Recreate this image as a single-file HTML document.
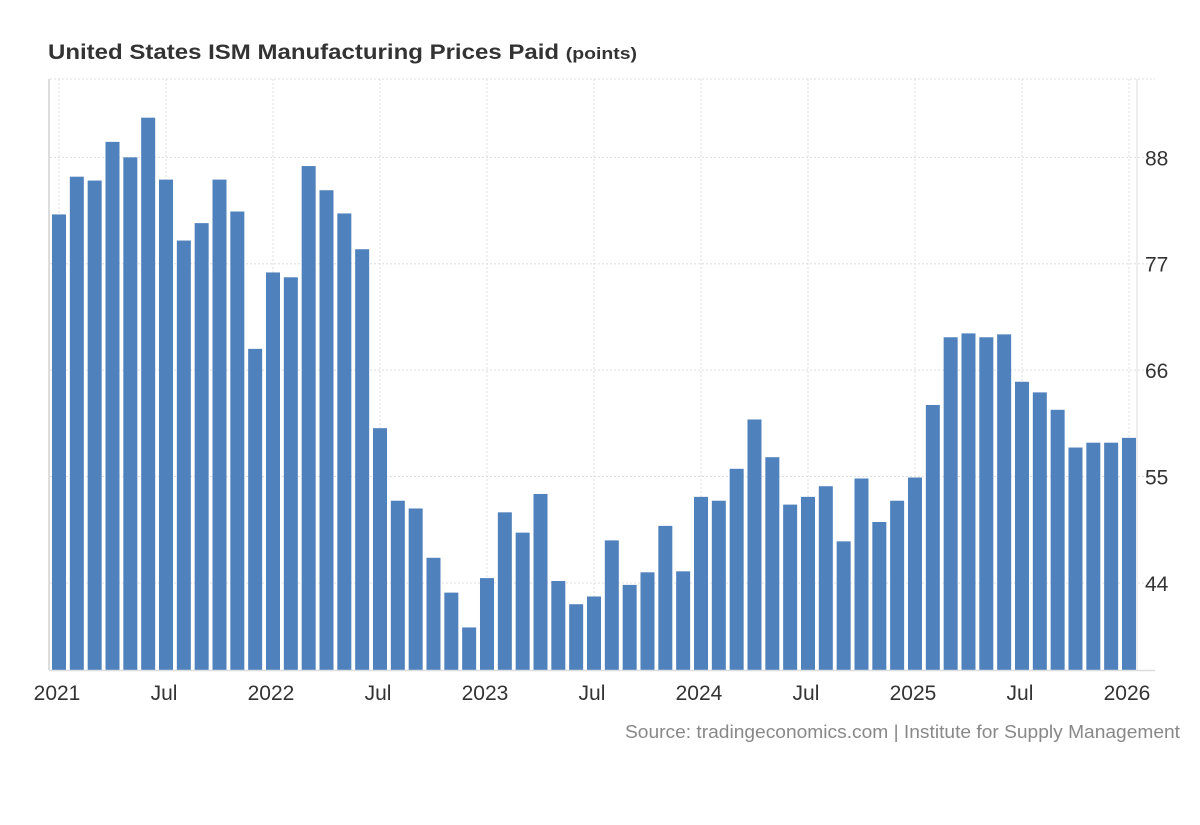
<!DOCTYPE html>
<html><head><meta charset="utf-8"><style>
body{margin:0;background:#fff;width:1200px;height:820px;overflow:hidden;font-family:"Liberation Sans",sans-serif}
</style></head><body>
<svg width="1200" height="820">
<text x="48" y="59" font-size="21" font-weight="bold" fill="#333" textLength="589" lengthAdjust="spacingAndGlyphs">United States ISM Manufacturing Prices Paid <tspan font-size="17">(points)</tspan></text>
<g id="grid"></g><g id="bars"></g><g id="axes"></g>
<text x="1180" y="738" font-size="18" fill="#888" text-anchor="end" textLength="555" lengthAdjust="spacingAndGlyphs">Source: tradingeconomics.com | Institute for Supply Management</text>
</svg>
<script>
const values=[82.1,86,85.6,89.6,88,92.1,85.7,79.4,81.2,85.7,82.4,68.2,
76.1,75.6,87.1,84.6,82.2,78.5,60,52.5,51.7,46.6,43,39.4,
44.5,51.3,49.2,53.2,44.2,41.8,42.6,48.4,43.8,45.1,49.9,45.2,
52.9,52.5,55.8,60.9,57,52.1,52.9,54,48.3,54.8,50.3,52.5,
54.9,62.4,69.4,69.8,69.4,69.7,64.8,63.7,61.9,58,58.5,58.5,59];
const yTicks=[44,55,66,77,88];
const xLabels=["2021","Jul","2022","Jul","2023","Jul","2024","Jul","2025","Jul","2026"];
const xLabelIdx=[0,6,12,18,24,30,36,42,48,54,60];
const ns="http://www.w3.org/2000/svg";
const yMin=35,yMax=96.1,plotTop=79,plotBot=670;
const y=v=>plotBot-(v-yMin)/(yMax-yMin)*(plotBot-plotTop);
const x=i=>59+i*17.833;
function mk(p,t,a){const e=document.createElementNS(ns,t);for(const k in a)e.setAttribute(k,a[k]);document.getElementById(p).appendChild(e);return e;}
let g=mk('grid','line',{x1:50,x2:1155,y1:plotTop,y2:plotTop,stroke:'#ddd','stroke-dasharray':'2,2'});


yTicks.forEach(t=>{
 const l=mk('grid','line',{x1:50,x2:1155,y1:y(t),y2:y(t),stroke:'#ddd','stroke-dasharray':'2,2'});
 
 
 const tx=mk('axes','text',{x:1145,y:y(t)+8,'font-size':21,fill:'#333'});tx.textContent=t;
 
 
});
xLabelIdx.forEach((i,k)=>{
 const l=mk('grid','line',{x1:x(i),x2:x(i),y1:plotTop,y2:plotBot,stroke:'#ddd','stroke-dasharray':'2,2'});
 
 
 const tx=mk('axes','text',{x:x(i)-2,y:700,'font-size':21,fill:'#333','text-anchor':'middle'});tx.textContent=xLabels[k];
 
 
});
values.forEach((v,i)=>{
 const r=mk('bars','rect',{x:x(i)-7,y:y(v),width:14,height:plotBot-y(v),fill:'#4f81bd'});
 
 
});
let a=mk('axes','line',{x1:49,x2:49,y1:plotTop,y2:plotBot,stroke:'#ddd','stroke-width':2});


a=mk('axes','line',{x1:1137,x2:1137,y1:plotTop,y2:plotBot,stroke:'#ddd'});


a=mk('axes','line',{x1:49,x2:1155,y1:plotBot+0.5,y2:plotBot+0.5,stroke:'#ddd','stroke-width':1.5});


</script>
</body></html>
